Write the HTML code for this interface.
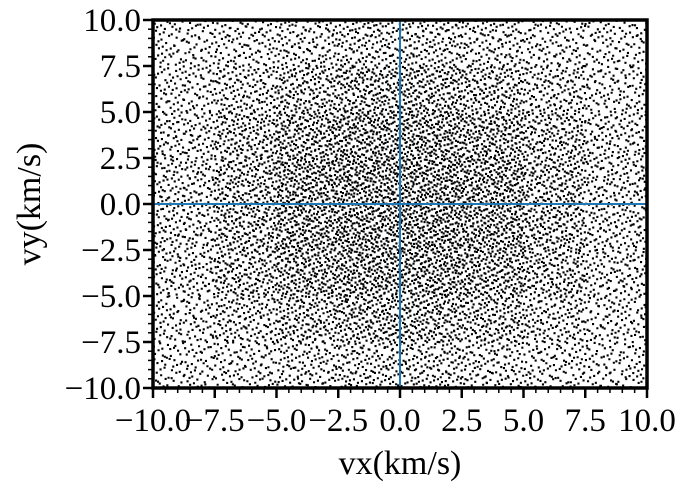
<!DOCTYPE html>
<html><head><meta charset="utf-8"><style>
body{margin:0;background:#fff;}
svg{display:block;font-family:"Liberation Serif",serif;}
</style></head><body>
<svg id="chart" width="687" height="491" viewBox="0 0 687 491">
<g id="dots"></g>
<g id="axes"></g>
</svg>
<script>
// density of points per 2.5x2.5 km/s cell (rows: vy top 10 -> bottom -10; cols: vx -10 -> 10)
const densityRows = [
 [ 95,105,120,135,135,120,105, 95],
 [105,135,170,195,195,170,135,105],
 [120,170,215,240,240,215,170,120],
 [125,180,240,260,260,240,180,125],
 [125,180,240,260,260,240,180,125],
 [120,170,215,240,240,215,170,120],
 [105,135,170,195,195,170,135,105],
 [ 95,105,120,135,135,120,105, 95]
];
const xTicks = [-10,-7.5,-5,-2.5,0,2.5,5,7.5,10];
const yTicks = [-10,-7.5,-5,-2.5,0,2.5,5,7.5,10];
const xTickLabels = ["\u221210.0","\u22127.5","\u22125.0","\u22122.5","0.0","2.5","5.0","7.5","10.0"];
const yTickLabels = ["\u221210.0","\u22127.5","\u22125.0","\u22122.5","0.0","2.5","5.0","7.5","10.0"];

const L=153,R=647,T=20,B=388;
const sx=v=>L+(v+10)/20*(R-L);
const sy=v=>B-(v+10)/20*(B-T);
const NS="http://www.w3.org/2000/svg";
function mk(tag,attrs,parent){const e=document.createElementNS(NS,tag);for(const k in attrs)e.setAttribute(k,attrs[k]);parent.appendChild(e);return e;}
function halton(i,b){let f=1,r=0;while(i>0){f/=b;r+=f*(i%b);i=Math.floor(i/b);}return r;}

const dots=document.getElementById('dots');
let d="";
const n=densityRows.length, m=densityRows[0].length, cw=20/m, ch=20/n;
let k=0;
for(let r=0;r<n;r++)for(let c=0;c<m;c++){
  const cnt=densityRows[r][c];
  const x0=-10+c*cw, y0=10-(r+1)*ch;
  for(let i=0;i<cnt;i++){k+=7;
    const u=halton(k,2), v=halton(k,3);
    const px=sx(x0+u*cw), py=sy(y0+v*ch);
    d+="M"+(px-1).toFixed(1)+" "+(py-1).toFixed(1)+"h2.1v2.1h-2.1z";
  }
}
const pts=mk('path',{d:d,fill:'#000'},dots);



const ax=document.getElementById('axes');
const vl=mk('line',{x1:sx(0),x2:sx(0),y1:T,y2:B,stroke:'#1f77b4','stroke-width':2},ax);


const hl=mk('line',{x1:L,x2:R,y1:sy(0),y2:sy(0),stroke:'#1f77b4','stroke-width':2},ax);


const fr=mk('rect',{x:L,y:T,width:R-L,height:B-T,fill:'none',stroke:'#000','stroke-width':3.5},ax);


for(let v=-10;v<=10.001;v+=0.5){
  mk('line',{x1:sx(v),x2:sx(v),y1:B,y2:B+5,stroke:'#000','stroke-width':1.5},ax);
  mk('line',{x1:L,x2:L-5,y1:sy(v),y2:sy(v),stroke:'#000','stroke-width':1.5},ax);
}
xTicks.forEach((v,i)=>{
  mk('line',{x1:sx(v),x2:sx(v),y1:B,y2:B+10,stroke:'#000','stroke-width':2.5},ax);
  const t=mk('text',{x:sx(v),y:B+43,'text-anchor':'middle','font-size':33},ax);
  t.textContent=xTickLabels[i];
  
  
});
yTicks.forEach((v,i)=>{
  mk('line',{x1:L,x2:L-10,y1:sy(v),y2:sy(v),stroke:'#000','stroke-width':2.5},ax);
  const t=mk('text',{x:L-12,y:sy(v)+11,'text-anchor':'end','font-size':33},ax);
  t.textContent=yTickLabels[i];
  
  
});
const xt=mk('text',{x:(L+R)/2,y:474,'text-anchor':'middle','font-size':34},ax);
xt.textContent="vx(km/s)";


const yt=mk('text',{x:0,y:0,'text-anchor':'middle','font-size':34,transform:'translate(40,'+((T+B)/2)+') rotate(-90)'},ax);
yt.textContent="vy(km/s)";


</script>
</body></html>
